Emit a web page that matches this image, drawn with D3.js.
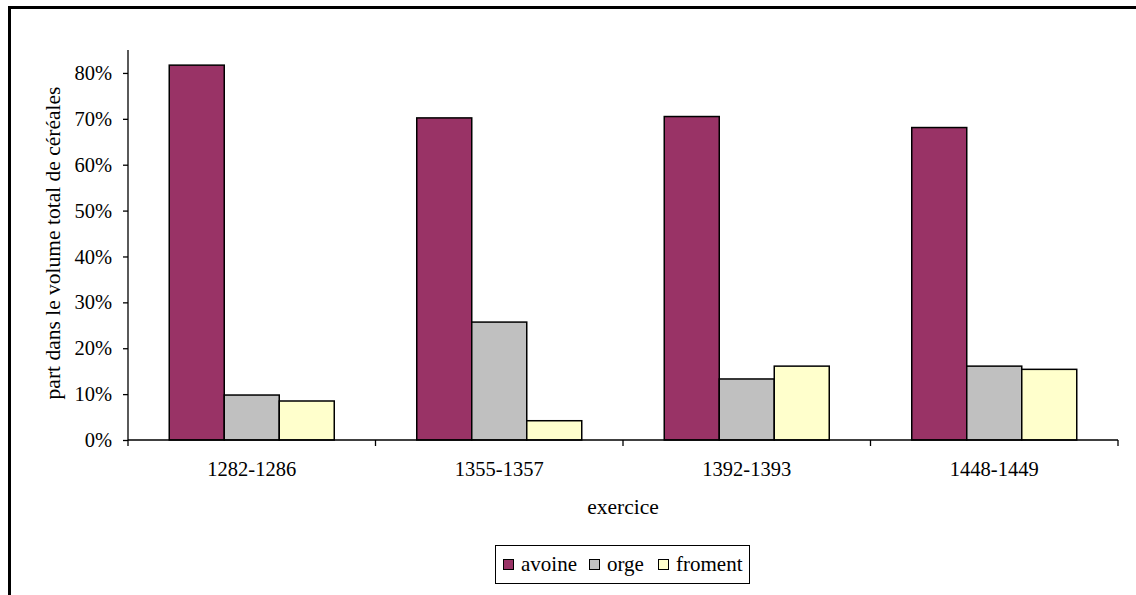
<!DOCTYPE html>
<html>
<head>
<meta charset="utf-8">
<script src="https://cdn.jsdelivr.net/npm/d3@7"></script>
<style>
  html, body { margin: 0; padding: 0; background: #fff; }
  svg { display: block; }
</style>
</head>
<body>
<svg id="chart" width="1136" height="595"></svg>
<script>
const categories = ["1282-1286", "1355-1357", "1392-1393", "1448-1449"];
const seriesNames = ["avoine", "orge", "froment"];
const avoine = [0.817, 0.702, 0.705, 0.681];
const orge = [0.098, 0.257, 0.133, 0.161];
const froment = [0.085, 0.042, 0.161, 0.154];
const yTicks = [0, 0.1, 0.2, 0.3, 0.4, 0.5, 0.6, 0.7, 0.8];
const colors = ["#993366", "#C0C0C0", "#FFFFCC"];
const yTitle = "part dans le volume total de céréales";
const xTitle = "exercice";

const seriesValues = [avoine, orge, froment];
const rows = categories.map((c, i) => ({cat: c, vals: seriesNames.map((s, j) => ({s, v: seriesValues[j][i], j}))}));

const FONT = "'Liberation Serif', 'Times New Roman', Times, 'DejaVu Serif', serif";
const svg = d3.select("#chart").attr("font-family", FONT);
const fsTick = 20.5;
const fsTitle = 21.5;
const fsLegend = 21;

// outer frame (right/bottom cut off)
svg.append("rect").attr("x", 9.5).attr("y", 7.5).attr("width", 1200).attr("height", 700)
  .attr("fill", "none").attr("stroke", "#000").attr("stroke-width", 3);

const x0 = d3.scaleBand().domain(categories).range([128, 1118]).paddingInner(0).paddingOuter(0);
const x1 = d3.scaleBand().domain(seriesNames).range([0, x0.bandwidth()]).paddingInner(0).paddingOuter(0.75);
const y = d3.scaleLinear().domain([0, 0.85]).range([440, 50]);

// bars
const g = svg.append("g");
g.selectAll("g.grp").data(rows).join("g").attr("class", "grp")
  .attr("transform", d => `translate(${x0(d.cat)},0)`)
  .selectAll("rect").data(d => d.vals).join("rect")
  .attr("x", d => x1(d.s))
  .attr("y", d => y(d.v))
  .attr("width", x1.bandwidth())
  .attr("height", d => y(0) - y(d.v))
  .attr("fill", d => colors[d.j])
  .attr("stroke", "#000").attr("stroke-width", 1.5);

// y axis
const yAxis = d3.axisLeft(y).tickValues(yTicks).tickFormat(d3.format(".0%")).tickSize(5).tickPadding(11);
const ya = svg.append("g").attr("transform", "translate(128,0)").call(yAxis)
  .attr("font-family", FONT).attr("font-size", fsTick);
ya.select(".domain").attr("d", `M0,${y(0.85)}V${y(0)}`).attr("stroke", "#000").attr("stroke-width", 1.3);
ya.selectAll(".tick line").attr("stroke", "#000").attr("stroke-width", 1.3);
ya.selectAll("text").attr("fill", "#000");

// x axis
const xAxis = d3.axisBottom(x0).tickSize(0).tickPadding(21);
const xa = svg.append("g").attr("transform", `translate(0,${y(0)})`).call(xAxis)
  .attr("font-family", FONT).attr("font-size", fsTick);
xa.select(".domain").attr("d", `M128,0H1118`).attr("stroke", "#000").attr("stroke-width", 1.3);
xa.selectAll("text").attr("fill", "#000");
const bounds = categories.map(c => x0(c)).concat([x0.range()[1]]);
xa.selectAll("line.bt").data(bounds).join("line").attr("class", "bt")
  .attr("x1", d => d).attr("x2", d => d).attr("y1", 0).attr("y2", 6)
  .attr("stroke", "#000").attr("stroke-width", 1.3);

// axis titles
svg.append("text").attr("x", (128 + 1118) / 2).attr("y", 514).attr("text-anchor", "middle")
  .attr("font-size", fsTitle).text(xTitle);
svg.append("text").attr("transform", `translate(60,${(y(0) + y(0.85)) / 2 - 2}) rotate(-90)`)
  .attr("text-anchor", "middle").attr("font-size", fsTitle).text(yTitle);

// legend
const lg = svg.append("g").attr("font-size", fsLegend);
lg.append("rect").attr("x", 495.5).attr("y", 545.5).attr("width", 254).attr("height", 38)
  .attr("fill", "#fff").attr("stroke", "#000").attr("stroke-width", 1);
const itemX = [503, 589, 658];
seriesNames.forEach((s, j) => {
  lg.append("rect").attr("x", itemX[j] + 0.5).attr("y", 559.5).attr("width", 10).attr("height", 10)
    .attr("fill", colors[j]).attr("stroke", "#000").attr("stroke-width", 1);
  lg.append("text").attr("x", itemX[j] + 18).attr("y", 571).text(s);
});
</script>
</body>
</html>
